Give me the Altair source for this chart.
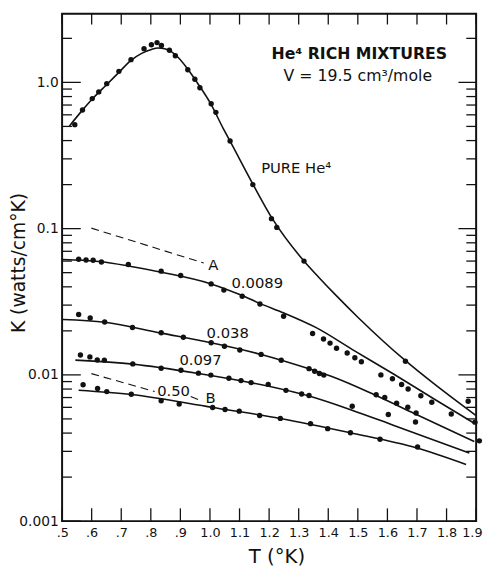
import altair as alt
import pandas as pd

# ---------------- data ----------------
# measured points (T in K, K in watts/cm K)
pure_T = [0.543, 0.569, 0.602, 0.624, 0.651, 0.692, 0.733, 0.777, 0.802, 0.821, 0.836, 0.863,
          0.883, 0.925, 0.949, 0.966, 1.004, 1.020, 1.068, 1.145, 1.208, 1.226, 1.318, 1.661]
pure_K = [0.514, 0.647, 0.775, 0.861, 0.980, 1.19, 1.43, 1.70, 1.81, 1.87, 1.79, 1.66,
          1.52, 1.22, 1.05, 0.919, 0.715, 0.624, 0.397, 0.200, 0.117, 0.102, 0.0600, 0.0124]

x0089_T = [0.556, 0.581, 0.605, 0.633, 0.724, 0.835, 0.901, 1.004, 1.047, 1.109, 1.169, 1.249,
           1.347, 1.384, 1.406, 1.428, 1.464, 1.490, 1.512, 1.578, 1.617, 1.648, 1.670, 1.713,
           1.750, 1.816, 1.873, 1.896]
x0089_K = [0.0617, 0.0610, 0.0608, 0.0591, 0.0569, 0.0512, 0.0478, 0.0419, 0.0380, 0.0345, 0.0305, 0.0252,
           0.0192, 0.0176, 0.0165, 0.0152, 0.0141, 0.0131, 0.0123, 0.0100, 0.0094, 0.0086, 0.0080, 0.0072,
           0.0065, 0.0054, 0.0066, 0.00475]

x038_T = [0.556, 0.595, 0.644, 0.738, 0.835, 0.910, 1.004, 1.049, 1.101, 1.173, 1.241, 1.335,
          1.354, 1.370, 1.385, 1.562, 1.591, 1.631, 1.669, 1.697, 1.911]
x038_K = [0.0259, 0.0245, 0.0230, 0.0211, 0.0194, 0.0181, 0.0166, 0.0157, 0.0148, 0.0138, 0.0126, 0.01103,
          0.01059, 0.01023, 0.00997, 0.00731, 0.00701, 0.00641, 0.00601, 0.00549, 0.00354]

x097_T = [0.562, 0.594, 0.619, 0.643, 0.739, 0.835, 0.902, 0.961, 1.003, 1.064, 1.105, 1.139,
          1.197, 1.257, 1.310, 1.335, 1.481, 1.603, 1.695]
x097_K = [0.01368, 0.01327, 0.01265, 0.01261, 0.01189, 0.01109, 0.01075, 0.01028, 0.00997, 0.00948,
          0.00914, 0.00886, 0.00861, 0.00784, 0.00740, 0.00723, 0.00610, 0.00536, 0.00476]

x050_T = [0.571, 0.620, 0.651, 0.734, 0.835, 0.896, 1.009, 1.051, 1.099, 1.168, 1.238, 1.340,
          1.398, 1.475, 1.575, 1.702]
x050_K = [0.00857, 0.00808, 0.00769, 0.00738, 0.00666, 0.00632, 0.00599, 0.00580, 0.00565, 0.00528,
          0.00504, 0.00464, 0.00429, 0.00402, 0.00363, 0.00321]

# smooth curves drawn through the data
pure_cT = [0.525, 0.569, 0.602, 0.652, 0.692, 0.732, 0.769, 0.802, 0.824, 0.847, 0.868, 0.891, 0.924,
           0.957, 1.001, 1.046, 1.068, 1.146, 1.212, 1.317, 1.366, 1.423, 1.500, 1.661, 1.755, 1.899]
pure_cK = [0.504, 0.646, 0.769, 0.970, 1.17, 1.41, 1.58, 1.68, 1.72, 1.70, 1.63, 1.49, 1.24,
           0.995, 0.723, 0.479, 0.396, 0.200, 0.116, 0.0603, 0.0469, 0.0355, 0.0248, 0.0125, 0.00877, 0.00528]
c0089_T = [0.503, 0.625, 0.724, 0.835, 1.004, 1.107, 1.170, 1.250, 1.356, 1.489, 1.622, 1.755, 1.895]
c0089_K = [0.0615, 0.0596, 0.0556, 0.0504, 0.0419, 0.0350, 0.0307, 0.0265, 0.0212, 0.0146, 0.0101, 0.0069, 0.00465]
c038_T = [0.503, 0.644, 0.835, 1.004, 1.173, 1.335, 1.423, 1.556, 1.689, 1.894]
c038_K = [0.0239, 0.0229, 0.0193, 0.0166, 0.0138, 0.0110, 0.00955, 0.00731, 0.00547, 0.00350]
c097_T = [0.545, 0.739, 0.961, 1.139, 1.335, 1.478, 1.622, 1.877]
c097_K = [0.01261, 0.01185, 0.01023, 0.00884, 0.00717, 0.00576, 0.00451, 0.00292]
c050_T = [0.556, 0.734, 1.009, 1.238, 1.475, 1.700, 1.866]
c050_K = [0.00785, 0.00734, 0.00599, 0.00504, 0.00402, 0.00316, 0.00244]

# dashed reference lines A and B (B is broken by its label)
dash_id = ["A", "A", "B1", "B1", "B2", "B2"]
dash_T = [0.599, 0.979, 0.599, 0.813, 0.935, 0.974]
dash_K = [0.1008, 0.0582, 0.0102, 0.00769, 0.00712, 0.00659]

# curve labels
lbl_text = ["0.0089", "0.038", "0.097", "0.50", "A", "B"]
lbl_T = [1.160, 1.060, 0.968, 0.877, 1.011, 1.002]
lbl_K = [0.0426, 0.0193, 0.0127, 0.00777, 0.0562, 0.00693]

pure_lbl = ["PURE He\u2074"]
pure_lbl_T = [1.173]
pure_lbl_K = [0.261]

head_text = ["He\u2074 RICH MIXTURES", "V = 19.5 cm\u00b3/mole"]
head_T = [1.505, 1.500]
head_K = [1.565, 1.105]

# axis ticks
x_ticks = [0.5, 0.6, 0.7, 0.8, 0.9, 1.0, 1.1, 1.2, 1.3, 1.4, 1.5, 1.6, 1.7, 1.8, 1.9]
y_major = [0.001, 0.01, 0.1, 1.0]
y_minor = [m * d for d in [0.001, 0.01, 0.1] for m in range(2, 10)] + [2.0]

# ---------------- tables ----------------
def pts(name, T, K):
    return pd.DataFrame({"T": T, "K": K, "series": name})

points = pd.concat([pts("pure", pure_T, pure_K), pts("0.0089", x0089_T, x0089_K),
                    pts("0.038", x038_T, x038_K), pts("0.097", x097_T, x097_K),
                    pts("0.50", x050_T, x050_K)], ignore_index=True)

def crv(name, T, K):
    return pd.DataFrame({"T": T, "K": K, "series": name, "idx": range(len(T))})

curves = pd.concat([crv("pure", pure_cT, pure_cK), crv("0.0089", c0089_T, c0089_K),
                    crv("0.038", c038_T, c038_K), crv("0.097", c097_T, c097_K),
                    crv("0.50", c050_T, c050_K)], ignore_index=True)

dashes = pd.DataFrame({"T": dash_T, "K": dash_K, "id": dash_id, "idx": range(len(dash_T))})
labels = pd.DataFrame({"T": lbl_T, "K": lbl_K, "text": lbl_text})
pure_df = pd.DataFrame({"T": pure_lbl_T, "K": pure_lbl_K, "text": pure_lbl})
head_df = pd.DataFrame({"T": head_T, "K": head_K, "text": head_text})
xt_df = pd.DataFrame({"T": x_ticks})
ymaj_df = pd.DataFrame({"K": y_major})
ymin_df = pd.DataFrame({"K": y_minor})

W, H = 421, 516
FONT = "DejaVu Sans"
INK = "#111111"

xs = alt.Scale(domain=[0.5, 1.9], nice=False, zero=False)
ys = alt.Scale(type="log", domain=[0.001, 2.95], nice=False)

x_axis = alt.Axis(values=x_ticks, ticks=False, domain=False, grid=False, labelOverlap=False,
                  labelFlush=True, labelFlushOffset=6, labelBound=False,
                  labelExpr="datum.value < 1 ? '.' + format(datum.value*10, '.0f') : format(datum.value, '.1f')",
                  labelFont=FONT, labelFontSize=13, labelColor=INK, labelPadding=6,
                  titleFont=FONT, titleFontSize=20, titleFontWeight="normal",
                  titleColor=INK, titleX=218, titleY=36, titleBaseline="middle")
y_axis = alt.Axis(values=y_major, ticks=False, domain=False, grid=False, labelOverlap=False,
                  labelFlush=False,
                  labelExpr="datum.value >= 1 ? '1.0' : format(datum.value, '~g')",
                  labelFont=FONT, labelFontSize=14, labelColor=INK, labelPadding=4,
                  titleFont=FONT, titleFontSize=19, titleFontWeight="normal",
                  titleColor=INK, titleX=-44, titleY=253, titleAngle=-90, titleBaseline="middle",
                  titleAlign="center")

X = alt.X("T:Q", scale=xs, axis=x_axis, title="T (\u00b0K)")
Y = alt.Y("K:Q", scale=ys, axis=y_axis, title="K (watts/cm\u00b0K)")

dots = alt.Chart(points).mark_circle(size=30, color=INK, opacity=1).encode(x=X, y=Y)

lines = alt.Chart(curves).mark_line(color=INK, strokeWidth=1.6, interpolate="monotone").encode(
    x=X, y=Y, detail="series:N", order="idx:Q")

dashed = alt.Chart(dashes).mark_line(color=INK, strokeWidth=1.1, strokeDash=[8, 5]).encode(
    x=X, y=Y, detail="id:N", order="idx:Q")

lbls = alt.Chart(labels).mark_text(font=FONT, fontSize=15, color=INK, align="center",
                                   baseline="middle").encode(x=X, y=Y, text="text:N")
pure_t = alt.Chart(pure_df).mark_text(font=FONT, fontSize=15, color=INK, align="left",
                                      baseline="middle").encode(x=X, y=Y, text="text:N")
head_bold = alt.Chart(head_df.iloc[[0]]).mark_text(font=FONT, fontSize=16, fontWeight="bold", color=INK,
                                                  align="center", baseline="middle").encode(x=X, y=Y, text="text:N")
head_norm = alt.Chart(head_df.iloc[[1]]).mark_text(font=FONT, fontSize=16, color=INK,
                                                  align="center", baseline="middle").encode(x=X, y=Y, text="text:N")

tick_style = dict(color=INK, strokeWidth=1.3)
xt_bottom = alt.Chart(xt_df).mark_rule(**tick_style).encode(x=X, y=alt.value(H), y2=alt.value(H - 13))
xt_top = alt.Chart(xt_df).mark_rule(**tick_style).encode(x=X, y=alt.value(0), y2=alt.value(11))
ymaj_left = alt.Chart(ymaj_df).mark_rule(**tick_style).encode(y=Y, x=alt.value(0), x2=alt.value(19))
ymaj_right = alt.Chart(ymaj_df).mark_rule(**tick_style).encode(y=Y, x=alt.value(W), x2=alt.value(W - 18))
ymin_left = alt.Chart(ymin_df).mark_rule(**tick_style).encode(y=Y, x=alt.value(0), x2=alt.value(10))
ymin_right = alt.Chart(ymin_df).mark_rule(**tick_style).encode(y=Y, x=alt.value(W), x2=alt.value(W - 10))

chart = alt.layer(
    dots, lines, dashed, lbls, pure_t, head_bold, head_norm,
    xt_bottom, xt_top, ymaj_left, ymaj_right, ymin_left, ymin_right,
).properties(
    width=W, height=H,
    autosize=alt.AutoSizeParams(type="none"),
    padding={"left": 55, "top": 1, "right": 8, "bottom": 50},
    background="white",
).configure_view(stroke=INK, strokeWidth=2)

chart.save("out.html", embed_options={"renderer": "svg", "actions": False})
